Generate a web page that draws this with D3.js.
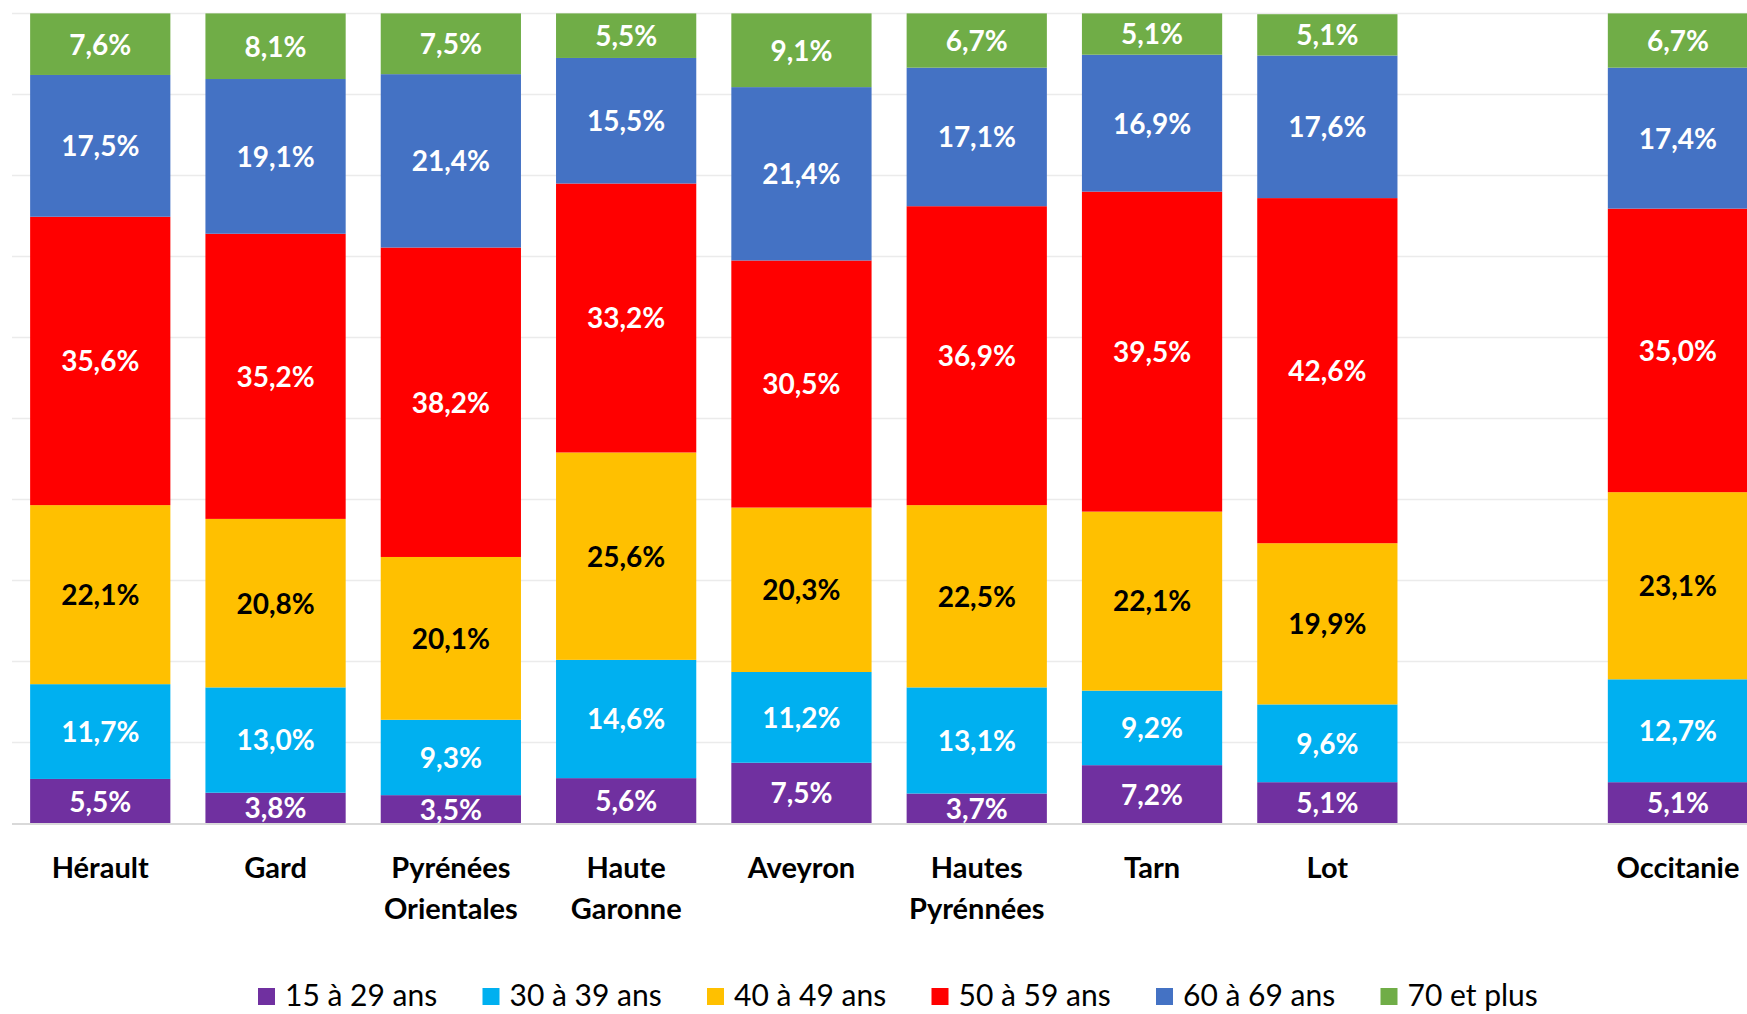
<!DOCTYPE html>
<html>
<head>
<meta charset="utf-8">
<script src="https://cdn.jsdelivr.net/npm/d3@7"></script>
<style>
body{margin:0;background:#fff;}
svg{display:block;font-family:Lato,"Open Sans",sans-serif;}
</style>
</head>
<body>
<script>
const svg_width = 1747, svg_height = 1014;

// departments (bottom labels), a blank slot sits before Occitanie
var categories = ["Hérault","Gard","Pyrénées\nOrientales","Haute\nGaronne","Aveyron","Hautes\nPyrénnées","Tarn","Lot","Occitanie"];
var slots = ["Hérault","Gard","Pyrénées\nOrientales","Haute\nGaronne","Aveyron","Hautes\nPyrénnées","Tarn","Lot","gap","Occitanie"];

var ageGroups = ["15 à 29 ans","30 à 39 ans","40 à 49 ans","50 à 59 ans","60 à 69 ans","70 et plus"];
var colors = ["#7030A0","#00B0F0","#FFC000","#FF0000","#4472C4","#70AD47"];
var labelColors = ["#fff","#fff","#000","#fff","#fff","#fff"];

// shares in %, one array per age group, same order as categories
var age15_29 = [5.5,3.8,3.5,5.6,7.5,3.7,7.2,5.1,5.1];
var age30_39 = [11.7,13.0,9.3,14.6,11.2,13.1,9.2,9.6,12.7];
var age40_49 = [22.1,20.8,20.1,25.6,20.3,22.5,22.1,19.9,23.1];
var age50_59 = [35.6,35.2,38.2,33.2,30.5,36.9,39.5,42.6,35.0];
var age60_69 = [17.5,19.1,21.4,15.5,21.4,17.1,16.9,17.6,17.4];
var age70 = [7.6,8.1,7.5,5.5,9.1,6.7,5.1,5.1,6.7];

var gridTicks = [0,10,20,30,40,50,60,70,80,90,100];

var seriesValues = [age15_29,age30_39,age40_49,age50_59,age60_69,age70];
var rows = categories.map(function(c,i){
	var r = {cat:c};
	ageGroups.forEach(function(g,j){ r[g] = seriesValues[j][i]; });
	return r;
});

var svg = d3.select("body").append("svg")
.attr("width",svg_width)
.attr("height",svg_height);

var plotTop = 13.4, plotBottom = 823.5;
var x = d3.scaleBand().domain(slots).range([12.6,1765.6]).paddingInner(0.2).paddingOuter(0.1);
var y = d3.scaleLinear().domain([0,100]).range([plotBottom,plotTop]);

// gridlines
svg.append("g").selectAll("line")
.data(gridTicks.slice(1))
.enter().append("line")
.attr("x1",12).attr("x2",svg_width)
.attr("y1",function(d){return y(d)}).attr("y2",function(d){return y(d)})
.attr("stroke","#ebebeb").attr("stroke-width",1.5);

var clip = svg.append("defs").append("clipPath").attr("id","plotclip");
clip.append("rect").attr("x",0).attr("y",0).attr("width",svg_width).attr("height",plotBottom);

var stacked = d3.stack().keys(ageGroups)(rows);

var layers = svg.append("g").selectAll("g")
.data(stacked)
.enter().append("g")
.attr("fill",function(d,i){return colors[i]});

layers.selectAll("rect")
.data(function(d){return d})
.enter().append("rect")
.attr("x",function(d){return x(d.data.cat)})
.attr("width",x.bandwidth())
.attr("y",function(d){return y(d[1])})
.attr("height",function(d){return y(d[0]) - y(d[1])});

// value labels
var labelGroup = svg.append("g").attr("clip-path","url(#plotclip)");
stacked.forEach(function(layer,i){
	labelGroup.append("g").selectAll("text")
	.data(layer)
	.enter().append("text")
	.attr("x",function(d){return x(d.data.cat) + x.bandwidth()/2})
	.attr("y",function(d){return (y(d[0]) + y(d[1]))/2})
	.attr("dy","0.37em")
	.attr("text-anchor","middle")
	.attr("font-size",28)
	.attr("font-weight","bold")
	.attr("fill",labelColors[i])
	.text(function(d){return (d[1]-d[0]).toFixed(1).replace(".",",") + "%"});
});

// axis line
svg.append("line")
.attr("x1",12).attr("x2",svg_width)
.attr("y1",plotBottom+0.5).attr("y2",plotBottom+0.5)
.attr("stroke","#d9d9d9").attr("stroke-width",2);

// category labels
var xAxis = d3.axisBottom(x).tickSize(0).tickFormat(function(d){return d=="gap" ? "" : d});
var axisG = svg.append("g").attr("transform","translate(0,"+plotBottom+")").call(xAxis);
axisG.select(".domain").remove();
axisG.selectAll("text").each(function(d){
	var t = d3.select(this);
	var lines = d=="gap" ? [] : d.split("\n");
	t.text(null)
	.attr("y",0).attr("dy",null)
	.attr("font-family","Lato, sans-serif")
	.attr("font-size",29).attr("font-weight","bold").attr("fill","#000");
	lines.forEach(function(l,k){
		t.append("tspan").attr("x",0).attr("y",54 + k*41).text(l);
	});
});

// legend
var legend = svg.append("g").selectAll("g")
.data(ageGroups)
.enter().append("g")
.attr("transform",function(d,i){return "translate(" + (258 + i*224.5) + ",988)"});
legend.append("rect")
.attr("width",17).attr("height",17)
.attr("fill",function(d,i){return colors[i]});
legend.append("text")
.attr("x",27).attr("y",18)
.attr("font-size",30)
.attr("fill","#000")
.text(function(d){return d});
</script>
</body>
</html>
